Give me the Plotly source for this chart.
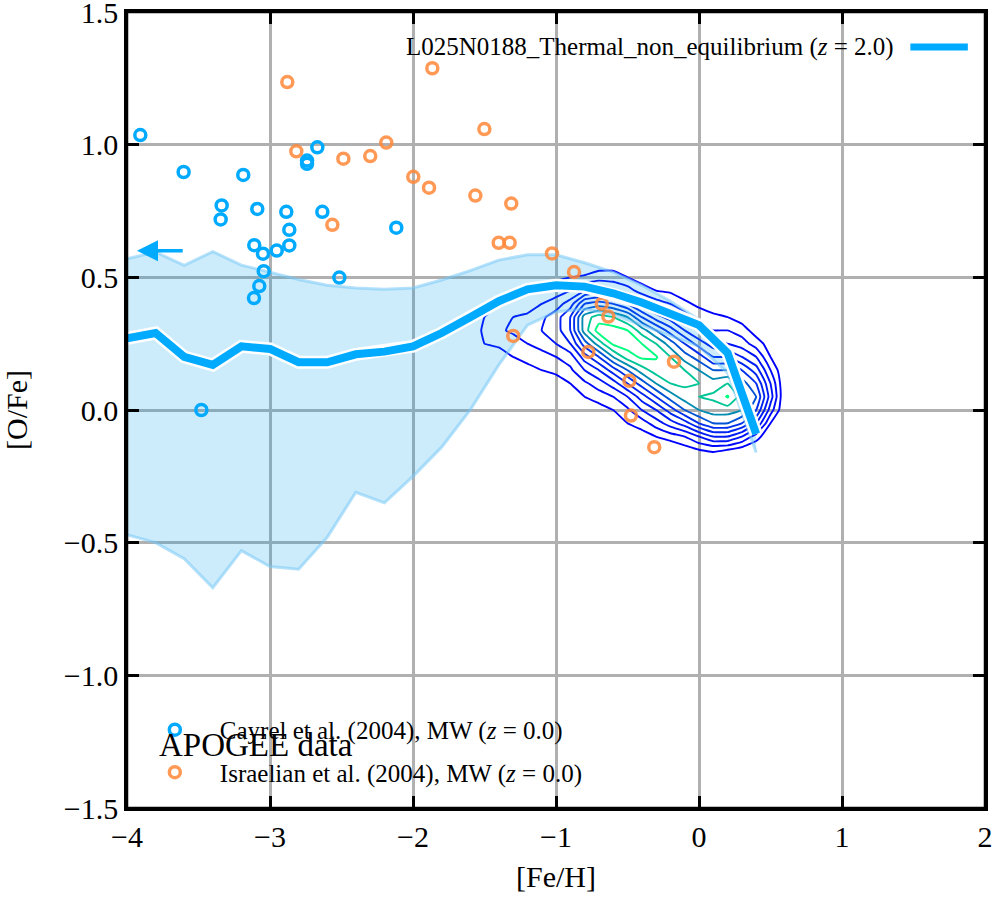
import plotly.graph_objects as go

# ---------------- data ----------------
# Simulation median and 10-90 percentile band (L025N0188_Thermal_non_equilibrium, z=2.0)
sim_feh = [-4.0, -3.8, -3.6, -3.4, -3.2, -3.0, -2.8, -2.6, -2.4, -2.2, -2.0, -1.8,
           -1.6, -1.4, -1.2, -1.0, -0.8, -0.6, -0.4, -0.2, 0.0, 0.2, 0.4]
sim_median = [0.27, 0.29, 0.20, 0.17, 0.24, 0.23, 0.18, 0.18, 0.21, 0.22, 0.24, 0.29,
              0.35, 0.41, 0.455, 0.47, 0.465, 0.44, 0.405, 0.365, 0.32, 0.215, -0.09]
sim_upper = [0.57, 0.595, 0.545, 0.597, 0.546, 0.518, 0.492, 0.47, 0.46, 0.455, 0.46, 0.49,
             0.525, 0.565, 0.585, 0.585, 0.555, 0.52, 0.47, 0.41, 0.34, 0.24, -0.05]
sim_lower = [-0.47, -0.50, -0.56, -0.67, -0.53, -0.59, -0.60, -0.48, -0.31, -0.35, -0.25, -0.14,
             0.00, 0.17, 0.32, 0.37, 0.38, 0.36, 0.32, 0.28, 0.24, 0.14, -0.16]

# Cayrel et al. (2004)
cayrel_feh = [-3.907, -3.604, -3.187, -3.338, -3.345, -3.089, -2.886, -2.865, -2.865, -2.953,
              -3.110, -3.049, -3.044, -3.075, -3.112, -2.634, -2.669, -2.741, -2.741, -2.515,
              -2.117, -3.480]
cayrel_ofe = [1.036, 0.897, 0.886, 0.771, 0.718, 0.758, 0.747, 0.679, 0.620, 0.601,
              0.621, 0.589, 0.523, 0.467, 0.422, 0.747, 0.990, 0.940, 0.928, 0.499,
              0.687, 0.000]

# Israelian et al. (2004)
isr_feh = [-2.879, -1.865, -2.816, -2.487, -2.299, -2.187, -1.998, -1.888, -2.564, -1.501,
           -1.564, -1.313, -1.401, -1.324, -1.028, -0.874, -0.634, -1.299, -0.774, -0.175,
           -0.487, -0.476, -0.313, -0.680]
isr_ofe = [1.236, 1.288, 0.975, 0.947, 0.957, 1.008, 0.879, 0.838, 0.698, 1.059,
           0.808, 0.778, 0.630, 0.630, 0.590, 0.520, 0.352, 0.279, 0.219, 0.182,
           0.110, -0.021, -0.140, 0.400]

# APOGEE density grid (estimated star counts per cell)
apogee_feh = [-1.6, -1.5, -1.4, -1.3, -1.2, -1.1, -1.0, -0.9, -0.8, -0.7, -0.6, -0.5,
              -0.4, -0.3, -0.2, -0.1, 0.0, 0.1, 0.2, 0.3, 0.4, 0.5, 0.6]
apogee_ofe = [-0.20, -0.15, -0.10, -0.05, 0.00, 0.05, 0.10, 0.15, 0.20, 0.25, 0.30,
              0.35, 0.40, 0.45, 0.50, 0.55]
apogee_density = [
    [0, 0, 0, 0, 0, 0, 0, 0, 0, 0, 0, 0, 0, 0, 0, 0, 0, 0, 0, 0, 0, 0, 0],
    [0, 0, 0, 0, 0, 0, 0, 0, 0, 0, 0, 0, 0, 0, 0, 0.5, 1, 1.2, 1, 0.5, 0, 0, 0],
    [0, 0, 0, 0, 0, 0, 0, 0, 0, 0, 0, 0, 0.5, 1, 1.5, 2, 3, 4, 4, 3, 1.5, 0, 0],
    [0, 0, 0, 0, 0, 0, 0, 0, 0, 0, 0.3, 1, 1.5, 2.5, 3.5, 4.5, 6, 7, 7, 6, 4, 1, 0],
    [0, 0, 0, 0, 0, 0, 0, 0, 0, 0.5, 1, 1.8, 3, 4, 5.5, 7, 8, 8.5, 8.5, 8, 6, 2.5, 0],
    [0, 0, 0, 0, 0, 0, 0, 0.5, 1, 1.5, 2, 3, 4.5, 6, 7.5, 8.5, 9, 9.2, 10.1, 8.5, 7, 3.5, 0],
    [0, 0, 0, 0, 0, 0.3, 0.6, 1, 1.8, 2.5, 3.5, 5, 6.5, 8, 9, 9.2, 9, 8.5, 9, 7.5, 6, 3, 0],
    [0, 0, 0, 0.5, 0.8, 1, 1.2, 1.8, 3, 4, 5.5, 7, 8.5, 9.5, 9.5, 9, 8, 7, 7, 6, 4.5, 2, 0],
    [0, 0, 0.5, 1, 1.2, 1.5, 2, 2.5, 4.5, 6, 8, 9.5, 10.2, 10.1, 9, 7.5, 6.5, 5, 5, 4, 3, 1, 0],
    [0, 1, 1.2, 1.5, 2, 2.5, 3, 4, 6.5, 8.5, 10.2, 10.5, 10, 9, 7.5, 6, 4.5, 3.5, 3, 2.5, 1.5, 0.5, 0],
    [0, 1.3, 1.8, 2.2, 2.5, 3, 3.5, 5, 8.5, 10.5, 10.5, 10, 8.5, 7, 5.5, 4, 3, 2, 2, 1.5, 0.5, 0, 0],
    [0, 1, 1.5, 2, 2.2, 2.8, 3.5, 5, 8.5, 9.5, 9, 8, 6, 4.5, 3.5, 2.5, 1.5, 1.2, 1, 0.5, 0, 0, 0],
    [0, 0.5, 1, 1.2, 1.5, 2, 2.5, 3.5, 6, 6.5, 6, 5, 3.5, 2.5, 2, 1.2, 0.8, 0.5, 0, 0, 0, 0, 0],
    [0, 0, 0.3, 0.8, 1, 1.2, 1.5, 2, 3, 3.5, 3, 2.5, 1.5, 1, 0.8, 0.5, 0, 0, 0, 0, 0, 0, 0],
    [0, 0, 0, 0.3, 0.5, 0.6, 0.8, 1, 1.2, 1.5, 1.5, 1, 0.5, 0, 0, 0, 0, 0, 0, 0, 0, 0, 0],
    [0, 0, 0, 0, 0, 0, 0, 0, 0, 0.5, 0.5, 0, 0, 0, 0, 0, 0, 0, 0, 0, 0, 0, 0],
]

# upper-limit arrow
arrow_tail = (-3.60, 0.60)
arrow_head = (-3.93, 0.60)

x_ticks = [-4, -3, -2, -1, 0, 1, 2]
y_ticks = [-1.5, -1.0, -0.5, 0.0, 0.5, 1.0, 1.5]

# ---------------- styles ----------------
FONT = "Liberation Serif"
SIM_BLUE = "rgb(0,170,255)"
CAY_BLUE = "rgb(0,170,255)"
ISR_ORANGE = "rgba(255,135,55,0.85)"

fig = go.Figure()

# percentile band
fig.add_trace(go.Scatter(x=sim_feh, y=sim_upper, mode="lines",
                         line=dict(color="rgba(120,200,245,0.55)", width=3),
                         showlegend=False, hoverinfo="skip"))
fig.add_trace(go.Scatter(x=sim_feh, y=sim_lower, mode="lines", fill="tonexty",
                         fillcolor="rgba(0,160,240,0.2)",
                         line=dict(color="rgba(120,200,245,0.55)", width=3),
                         showlegend=False, hoverinfo="skip"))

# APOGEE contours
fig.add_trace(go.Contour(x=apogee_feh, y=apogee_ofe, z=apogee_density,
                         contours=dict(start=1, end=10, size=1, coloring="lines"),
                         colorscale=[[0, "rgb(0,0,255)"], [0.6, "rgb(0,50,235)"],
                                     [0.8, "rgb(0,150,170)"], [1, "rgb(0,255,128)"]],
                         zmin=1, zmax=10, showscale=False,
                         line=dict(width=1.9, smoothing=0.3),
                         showlegend=False, hoverinfo="skip"))

# observational data
fig.add_trace(go.Scatter(x=cayrel_feh, y=cayrel_ofe, mode="markers",
                         name="Cayrel et al. (2004), MW (<i>z</i> = 0.0)",
                         marker=dict(symbol="circle-open", size=11, color=CAY_BLUE,
                                     line=dict(width=3.5, color=CAY_BLUE)),
                         legend="legend2", legendgroup="cay"))
fig.add_trace(go.Scatter(x=isr_feh, y=isr_ofe, mode="markers",
                         name="Israelian et al. (2004), MW (<i>z</i> = 0.0)",
                         marker=dict(symbol="circle-open", size=11, color=ISR_ORANGE,
                                     line=dict(width=3.5, color=ISR_ORANGE)),
                         legend="legend2", legendgroup="isr"))

# simulation median (white halo + blue line)
fig.add_trace(go.Scatter(x=sim_feh, y=sim_median, mode="lines",
                         line=dict(color="white", width=13),
                         showlegend=False, hoverinfo="skip"))
fig.add_trace(go.Scatter(x=sim_feh, y=sim_median, mode="lines",
                         line=dict(color=SIM_BLUE, width=8),
                         name="L025N0188_Thermal_non_equilibrium (<i>z</i> = 2.0)",
                         showlegend=False))

# arrow
fig.add_annotation(x=arrow_head[0], y=arrow_head[1], ax=arrow_tail[0], ay=arrow_tail[1],
                   xref="x", yref="y", axref="x", ayref="y", text="",
                   showarrow=True, arrowhead=2, arrowsize=1.2, arrowwidth=3.5,
                   arrowcolor=SIM_BLUE, standoff=0)

# top-right legend: text with line sample on the right
fig.add_annotation(xref="paper", yref="paper", x=0.8965, y=0.956, xanchor="right",
                   yanchor="middle", showarrow=False,
                   text="L025N0188_Thermal_non_equilibrium (<i>z</i> = 2.0)",
                   font=dict(family=FONT, size=25, color="black"))
fig.add_shape(type="line", xref="paper", yref="paper", x0=0.913, x1=0.980,
              y0=0.956, y1=0.956, line=dict(color=SIM_BLUE, width=7))

# APOGEE label
fig.add_annotation(xref="paper", yref="paper", x=0.035, y=0.079, xanchor="left",
                   yanchor="middle", showarrow=False, text="APOGEE data",
                   font=dict(family=FONT, size=33, color="black"))

# frame
fig.add_shape(type="rect", xref="paper", yref="paper", x0=0, x1=1, y0=0, y1=1,
              line=dict(color="black", width=2.5), layer="above")

axis_common = dict(showline=True, linecolor="black", linewidth=2.5, mirror="ticks",
                   ticks="inside", ticklen=12, tickwidth=2.5, tickcolor="black",
                   showgrid=True, gridcolor="#b0b0b0", gridwidth=2.5,
                   zeroline=False, automargin=False, ticklabeloverflow="allow",
                   tickfont=dict(family=FONT, size=30, color="black"))

fig.update_layout(
    width=996, height=900,
    margin=dict(l=127, r=11, t=12, b=92),
    paper_bgcolor="white", plot_bgcolor="white",
    font=dict(family=FONT, color="black"),
    xaxis=dict(range=[-4, 2], tickvals=x_ticks,
               title=dict(text="[Fe/H]", font=dict(family=FONT, size=30)),
               **axis_common),
    yaxis=dict(range=[-1.5, 1.5], tickvals=y_ticks, tickformat=".1f",
               title=dict(text="[O/Fe]", font=dict(family=FONT, size=30), standoff=34),
               **axis_common),
    legend2=dict(x=0.0033, y=0.127, xanchor="left", yanchor="top",
                 bgcolor="rgba(0,0,0,0)", itemwidth=80, tracegroupgap=7,
                 font=dict(family=FONT, size=25, color="black")),
)

fig.write_html("out.html", config={"displayModeBar": False},
               post_script="document.body.style.margin='0px';")
